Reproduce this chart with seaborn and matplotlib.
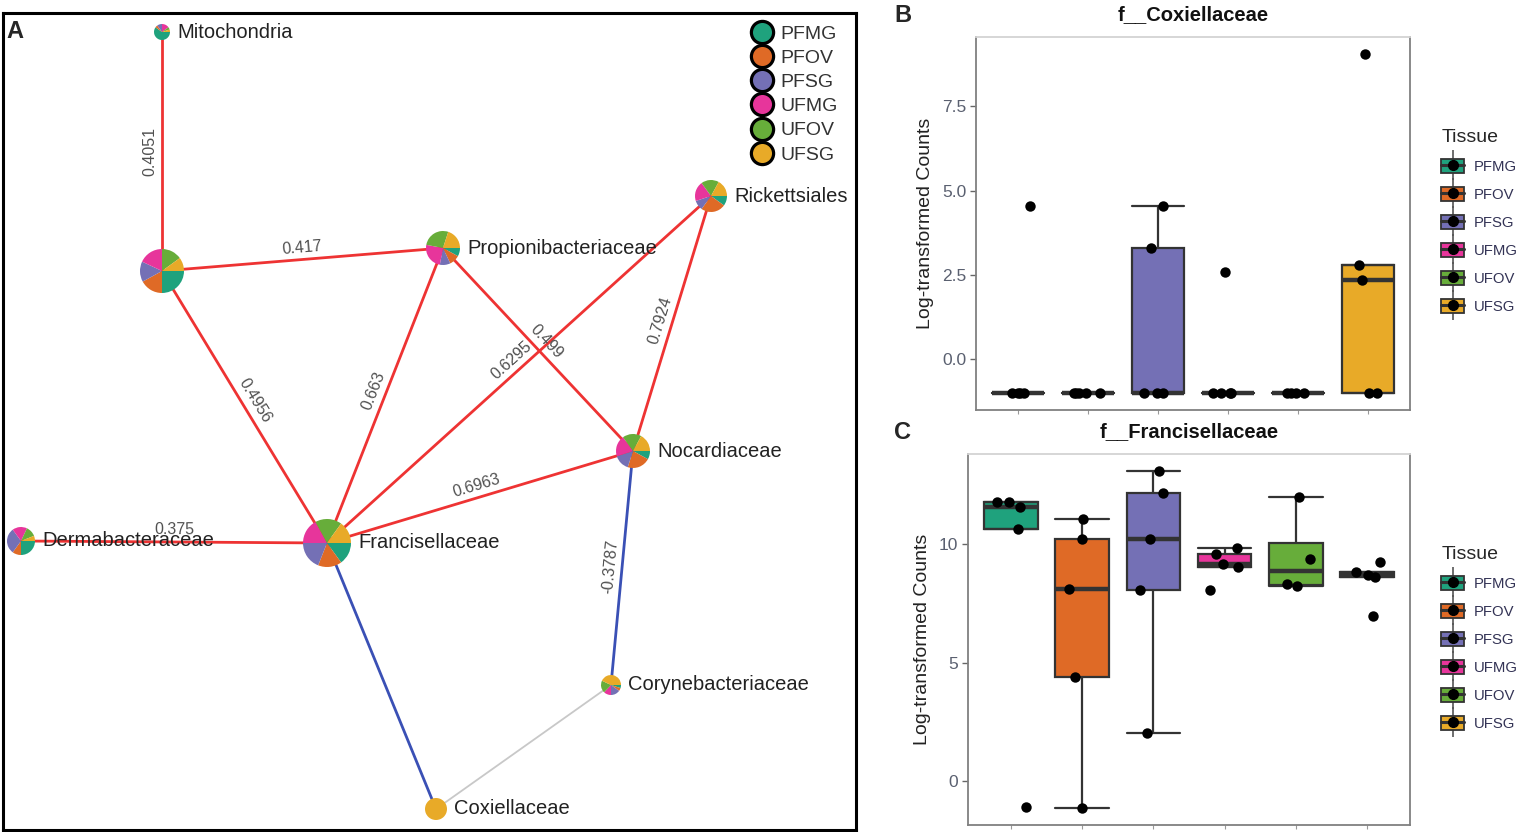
import numpy as np
import pandas as pd
import matplotlib
matplotlib.use("Agg")
import matplotlib.pyplot as plt
import seaborn as sns
from matplotlib.patches import Wedge, Patch
from matplotlib.lines import Line2D

# ---------------- data ----------------
tissues = ["PFMG", "PFOV", "PFSG", "UFMG", "UFOV", "UFSG"]
tissue_colors = ["#1FA27D", "#DF6A26", "#7470B5", "#E7359B", "#67AD3A", "#E8AA28"]

# network nodes (layout coordinates)
node_names = ["Mitochondria", "", "Propionibacteriaceae", "Rickettsiales", "Nocardiaceae",
              "Dermabacteraceae", "Francisellaceae", "Corynebacteriaceae", "Coxiellaceae"]
node_x = [159, 159, 440, 708, 630, 18, 324, 608, 433]
node_y = [798, 559, 582, 634, 379, 289, 287, 145, 21]
node_size = [8, 22, 17, 16, 17, 14, 24, 10, 11]
# composition per node, in tissue order
node_comp = [
    [0.60, 0.05, 0.10, 0.15, 0.05, 0.05],
    [0.25, 0.17, 0.15, 0.18, 0.15, 0.10],
    [0.08, 0.10, 0.10, 0.25, 0.27, 0.20],
    [0.10, 0.25, 0.10, 0.20, 0.18, 0.17],
    [0.08, 0.22, 0.15, 0.20, 0.18, 0.17],
    [0.25, 0.10, 0.30, 0.17, 0.12, 0.06],
    [0.15, 0.16, 0.19, 0.17, 0.18, 0.15],
    [0.05, 0.05, 0.15, 0.12, 0.20, 0.43],
    [0.00, 0.00, 0.00, 0.00, 0.00, 1.00],
]
edge_src = [0, 1, 1, 2, 2, 3, 3, 4, 5, 6, 4, 7]
edge_dst = [1, 2, 6, 6, 4, 6, 4, 6, 6, 8, 7, 8]
edge_label = ["0.4051", "0.417", "0.4956", "0.663", "0.499", "0.6295", "0.7924",
              "0.6963", "0.375", "", "-0.3787", ""]
edge_sign = ["+", "+", "+", "+", "+", "+", "+", "+", "+", "-", "-", "0"]
edge_colors = {"+": "#EE3333", "-": "#3A50B5", "0": "#C8C8C8"}

# panel B: f__Coxiellaceae
cox_PFMG = [-1, -1, -1, -1, 4.55]
cox_PFOV = [-1, -1, -1, -1, -1]
cox_PFSG = [-1, -1, -1, 3.3, 4.55]
cox_UFMG = [-1, -1, -1, -1, 2.6]
cox_UFOV = [-1, -1, -1, -1]
cox_UFSG = [-1, -1, 2.35, 2.8, 9.05]

# panel C: f__Francisellaceae
fran_PFMG = [11.75, 11.55, 11.76, 10.63, -1.1]
fran_PFOV = [11.05, 10.21, 8.11, 4.41, -1.13]
fran_PFSG = [13.07, 12.14, 10.21, 8.07, 2.02]
fran_UFMG = [9.83, 9.58, 9.16, 9.03, 8.07]
fran_UFOV = [11.97, 9.37, 8.30, 8.22]
fran_UFSG = [9.24, 8.82, 8.70, 8.62, 6.97]

# ---------------- style ----------------
sns.set_theme(style="white")
plt.rcParams["font.family"] = ["Liberation Sans", "DejaVu Sans"]

W, H = 1522, 832
fig = plt.figure(figsize=(W / 100, H / 100), dpi=100)


def px_rect(left, top, right, bottom):
    return [left / W, 1 - bottom / H, (right - left) / W, (bottom - top) / H]


# ---------------- panel A: network ----------------
axA = fig.add_axes(px_rect(3, 13, 856, 830))
axA.set_xlim(0, 853)
axA.set_ylim(0, 817)
axA.set_xticks([])
axA.set_yticks([])
for s in axA.spines.values():
    s.set_color("black")
    s.set_linewidth(2.2)

for s_i, d_i, lab, sg in zip(edge_src, edge_dst, edge_label, edge_sign):
    x0, y0, x1, y1 = node_x[s_i], node_y[s_i], node_x[d_i], node_y[d_i]
    axA.plot([x0, x1], [y0, y1], color=edge_colors[sg], lw=2.0 if sg != "0" else 1.3,
             zorder=1, solid_capstyle="round")
    if lab:
        ang = np.degrees(np.arctan2(y1 - y0, x1 - x0))
        if ang > 90:
            ang -= 180
        if ang <= -90:
            ang += 180
        t = np.radians(ang)
        mx, my = (x0 + x1) / 2, (y0 + y1) / 2
        off = 12
        axA.text(mx - off * np.sin(t), my + off * np.cos(t), lab, rotation=ang,
                 rotation_mode="anchor", ha="center", va="center",
                 fontsize=11.5, color="#505050", zorder=2)

for name, x, y, r, comp in zip(node_names, node_x, node_y, node_size, node_comp):
    cum = np.concatenate([[0], np.cumsum(comp)])
    cum = cum / cum[-1]
    for k, col in enumerate(tissue_colors):
        if comp[k] <= 0:
            continue
        axA.add_patch(Wedge((x, y), r, -cum[k + 1] * 360, -cum[k] * 360,
                            facecolor=col, edgecolor="none", zorder=3))
    if name:
        axA.text(x + r + 7, y, name, ha="left", va="center", fontsize=14.5,
                 color="#222222", zorder=4)

legA_handles = [Line2D([], [], ls="none", marker="o", markersize=16,
                       markerfacecolor=c, markeredgecolor="black", markeredgewidth=2.3)
                for c in tissue_colors]
axA.legend(legA_handles, tissues, loc="upper right", bbox_to_anchor=(0.995, 1.002),
           frameon=False, fontsize=14, labelspacing=0.34, handletextpad=0.3,
           handlelength=1.3, borderpad=0.2, labelcolor="#333333")

fig.text(6 / W, 1 - 32 / H, "A", fontsize=17, fontweight="bold", va="center", ha="left")
fig.text(894 / W, 1 - 16 / H, "B", fontsize=17, fontweight="bold", va="center", ha="left")
fig.text(894 / W, 1 - 432 / H, "C", fontsize=17, fontweight="bold", va="center", ha="left")

# ---------------- panels B & C: boxplots ----------------
pal = dict(zip(tissues, tissue_colors))


def long_df(groups):
    rows = []
    for t, vals in zip(tissues, groups):
        for v in vals:
            rows.append((t, v))
    return pd.DataFrame(rows, columns=["Tissue", "value"])


def box_panel(ax, df, title, yticks, yticklabels, seed):
    sns.boxplot(data=df, x="Tissue", y="value", hue="Tissue", order=tissues,
                hue_order=tissues, palette=pal, saturation=1, width=0.75, linewidth=1.6,
                linecolor="#333333", showfliers=False, legend=False, whis=1.5,
                medianprops={"linewidth": 3.2, "color": "#333333"},
                capwidths=0.75, ax=ax)
    np.random.seed(seed)
    sns.stripplot(data=df, x="Tissue", y="value", order=tissues, color="black",
                  size=7.5, jitter=0.22, ax=ax, zorder=5)
    vmin, vmax = df["value"].min(), df["value"].max()
    pad = 0.05 * (vmax - vmin)
    ax.set_ylim(vmin - pad, vmax + pad)
    ax.set_xlim(-0.6, len(tissues) - 0.4)
    ax.set_yticks(yticks)
    ax.set_yticklabels(yticklabels)
    ax.set_xticklabels([])
    ax.set_xlabel("")
    ax.set_ylabel("Log-transformed Counts", fontsize=14, color="#222222", labelpad=6)
    ax.set_title(title, fontsize=14.5, fontweight="bold", color="#111111", pad=12)
    ax.tick_params(axis="y", length=4, width=1, color="#666666", labelsize=12.5,
                   labelcolor="#5A6070", pad=3, left=True)
    ax.tick_params(axis="x", length=3, width=0.8, color="#999999", bottom=True)
    for k, s in ax.spines.items():
        s.set_linewidth(1.3)
        s.set_color("#D3D3D3" if k == "top" else "#808080")


dfB = long_df([cox_PFMG, cox_PFOV, cox_PFSG, cox_UFMG, cox_UFOV, cox_UFSG])
dfC = long_df([fran_PFMG, fran_PFOV, fran_PFSG, fran_UFMG, fran_UFOV, fran_UFSG])

axB = fig.add_axes(px_rect(976, 37, 1410, 410))
box_panel(axB, dfB, "f__Coxiellaceae", [0, 2.5, 5, 7.5], ["0.0", "2.5", "5.0", "7.5"], 3)
axC = fig.add_axes(px_rect(968, 454, 1410, 825))
box_panel(axC, dfC, "f__Francisellaceae", [0, 5, 10], ["0", "5", "10"], 7)


def tissue_handles():
    hs = []
    for c in tissue_colors:
        hs.append((Line2D([], [], ls="none", marker="|", markersize=22, color="#555555",
                          markeredgewidth=1.2),
                   Patch(facecolor=c, edgecolor="#333333", linewidth=1.3),
                   Line2D([], [], color="#333333", lw=2.2),
                   Line2D([], [], ls="none", marker="o", markersize=7, color="black")))
    return hs


for ytop in (116, 533):
    leg = fig.legend(tissue_handles(), tissues, loc="upper left",
                     bbox_to_anchor=(1428 / W, 1 - ytop / H), frameon=False,
                     title="Tissue", title_fontsize=14, fontsize=10.7,
                     labelspacing=0.86, handlelength=1.5, handleheight=1.1,
                     handletextpad=0.7, alignment="left", labelcolor="#333355")

fig.savefig("out.png", dpi=100)
